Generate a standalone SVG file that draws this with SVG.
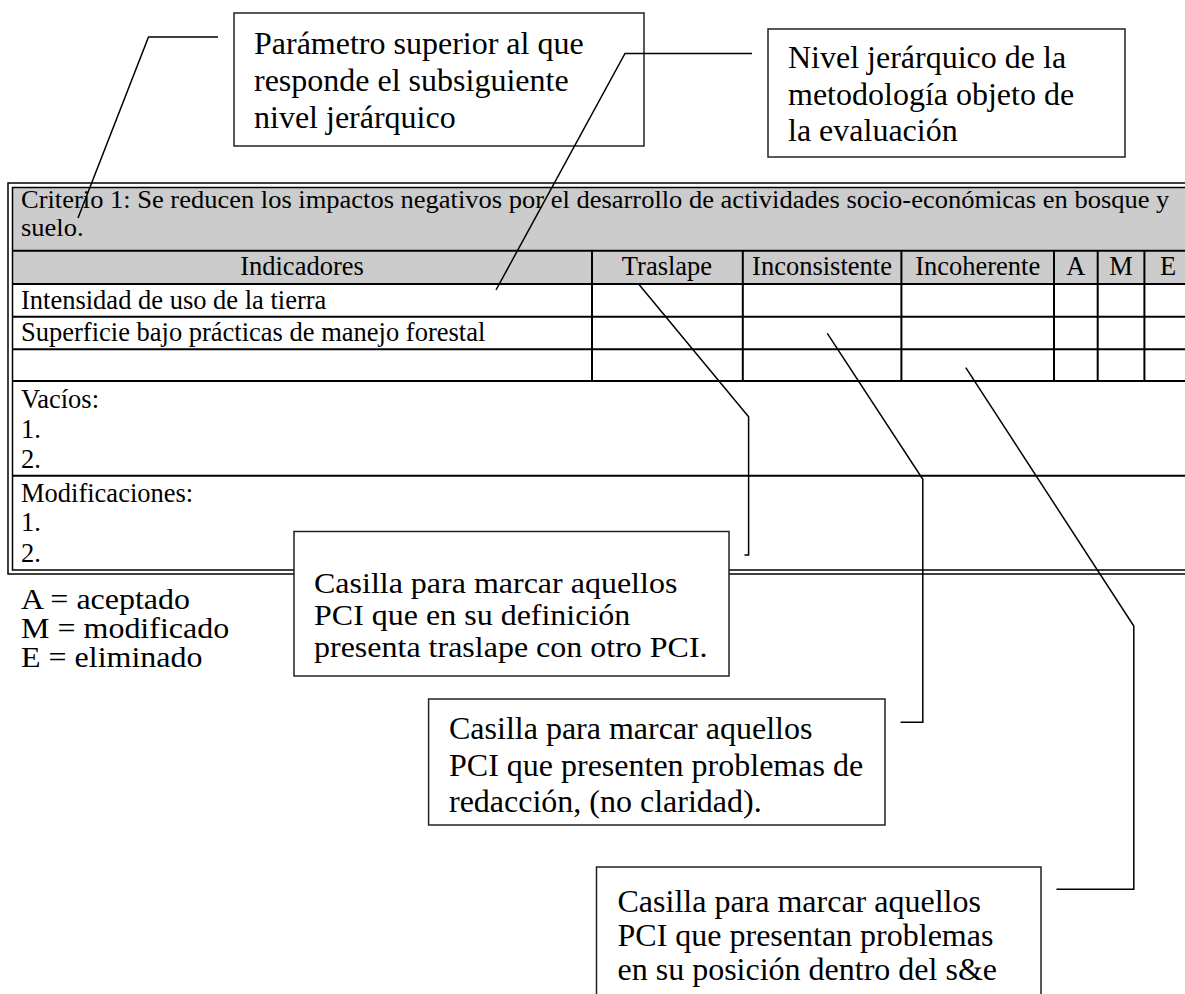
<svg xmlns="http://www.w3.org/2000/svg" width="1185" height="994" viewBox="0 0 1185 994">
<style>
  text { font-family: "Liberation Serif", "Times New Roman", serif; fill: #000; }
  .t { font-size: 26.5px; }
  .b { font-size: 32px; }
  .c { text-anchor: middle; }
  .grid { stroke: #000; stroke-width: 2; fill: none; }
  .frame { stroke: #000; stroke-width: 1.5; fill: none; }
  .box { fill: #fff; stroke: #222; stroke-width: 1.5; }
  .conn { fill: none; stroke: #000; stroke-width: 1.5; stroke-linejoin: miter; }
</style>
<rect x="0" y="0" width="1185" height="994" fill="#fff"/>

<g id="table">
  <rect x="12.5" y="188" width="1185" height="96" fill="#cccccc"/>
  <rect class="frame" x="8" y="183" width="1195" height="391"/>
  <rect class="frame" x="12.5" y="187.5" width="1185" height="382.5"/>
  <g class="grid">
    <line x1="12.5" y1="250.7" x2="1192" y2="250.7"/>
    <line x1="12.5" y1="284" x2="1192" y2="284"/>
    <line x1="12.5" y1="316.7" x2="1192" y2="316.7"/>
    <line x1="12.5" y1="349.3" x2="1192" y2="349.3"/>
    <line x1="12.5" y1="381" x2="1192" y2="381"/>
    <line x1="12.5" y1="475.7" x2="1192" y2="475.7"/>
    <line x1="592" y1="250.7" x2="592" y2="381"/>
    <line x1="742.8" y1="250.7" x2="742.8" y2="381"/>
    <line x1="901.4" y1="250.7" x2="901.4" y2="381"/>
    <line x1="1054" y1="250.7" x2="1054" y2="381"/>
    <line x1="1097.7" y1="250.7" x2="1097.7" y2="381"/>
    <line x1="1144.4" y1="250.7" x2="1144.4" y2="381"/>
  </g>
  <g transform="translate(21,208) scale(1,0.92)"><text class="t" x="0" y="0">Criterio 1: Se reducen los impactos negativos por el desarrollo de actividades socio-económicas en bosque y</text></g>
  <g transform="translate(21,235.5) scale(1,0.92)"><text class="t" x="0" y="0">suelo.</text></g>
  <text class="t c" x="302" y="275">Indicadores</text>
  <text class="t c" x="667" y="275">Traslape</text>
  <text class="t c" x="822" y="275">Inconsistente</text>
  <text class="t c" x="977.7" y="275">Incoherente</text>
  <text class="t c" x="1075.8" y="275">A</text>
  <text class="t c" x="1121" y="275">M</text>
  <text class="t c" x="1168" y="275">E</text>
  <text class="t" x="21" y="309">Intensidad de uso de la tierra</text>
  <text class="t" x="21" y="341">Superficie bajo prácticas de manejo forestal</text>
  <text class="t" x="21" y="408">Vacíos:</text>
  <text class="t" x="21" y="438">1.</text>
  <text class="t" x="21" y="468">2.</text>
  <text class="t" x="21" y="501.5">Modificaciones:</text>
  <text class="t" x="21" y="531">1.</text>
  <text class="t" x="21" y="561.5">2.</text>
</g>

<g id="legend">
  <g transform="translate(21,609) scale(1,0.9)"><text class="b" x="0" y="0">A = aceptado</text></g>
  <g transform="translate(21,638) scale(1,0.9)"><text class="b" x="0" y="0">M = modificado</text></g>
  <g transform="translate(21,667) scale(1,0.9)"><text class="b" x="0" y="0">E = eliminado</text></g>
</g>

<g id="box-parametro">
  <rect class="box" x="234" y="13" width="410" height="133"/>
  <text class="b" x="254" y="54">Parámetro superior al que</text>
  <text class="b" x="254" y="91">responde el subsiguiente</text>
  <text class="b" x="254" y="128">nivel jerárquico</text>
</g>

<g id="box-nivel">
  <rect class="box" x="768" y="29" width="357" height="128"/>
  <text class="b" x="788" y="68">Nivel jerárquico de la</text>
  <text class="b" x="788" y="105">metodología objeto de</text>
  <text class="b" x="788" y="141">la evaluación</text>
</g>

<g id="box-traslape">
  <rect class="box" x="294" y="531.5" width="435" height="144.5"/>
  <g transform="translate(314,593) scale(1,0.9)"><text class="b" x="0" y="0">Casilla para marcar aquellos</text></g>
  <g transform="translate(314,625) scale(1,0.9)"><text class="b" x="0" y="0">PCI que en su definición</text></g>
  <g transform="translate(314,657) scale(1,0.9)"><text class="b" x="0" y="0">presenta traslape con otro PCI.</text></g>
</g>

<g id="box-inconsistente">
  <rect class="box" x="428.6" y="699" width="456.4" height="126"/>
  <text class="b" x="449" y="739">Casilla para marcar aquellos</text>
  <text class="b" x="449" y="775.5">PCI que presenten problemas de</text>
  <text class="b" x="449" y="812">redacción, (no claridad).</text>
</g>

<g id="box-incoherente">
  <rect class="box" x="596.5" y="867" width="444.5" height="140"/>
  <text class="b" x="617.5" y="912">Casilla para marcar aquellos</text>
  <text class="b" x="617.5" y="946">PCI que presentan problemas</text>
  <text class="b" x="617.5" y="980">en su posición dentro del s&amp;e</text>
</g>

<g id="connectors">
  <polyline class="conn" points="218,37 148.5,37 78,218"/>
  <polyline class="conn" points="752,53.5 625,53.5 496,290"/>
  <polyline class="conn" points="638.6,284 748.6,416.7 748.6,555 744.5,555"/>
  <polyline class="conn" points="827.3,333.3 922.8,479.3 922.8,722.3 900.6,722.3"/>
  <polyline class="conn" points="965.8,367.7 1133.8,626 1133.8,889.3 1056.5,889.3"/>
</g>
</svg>
